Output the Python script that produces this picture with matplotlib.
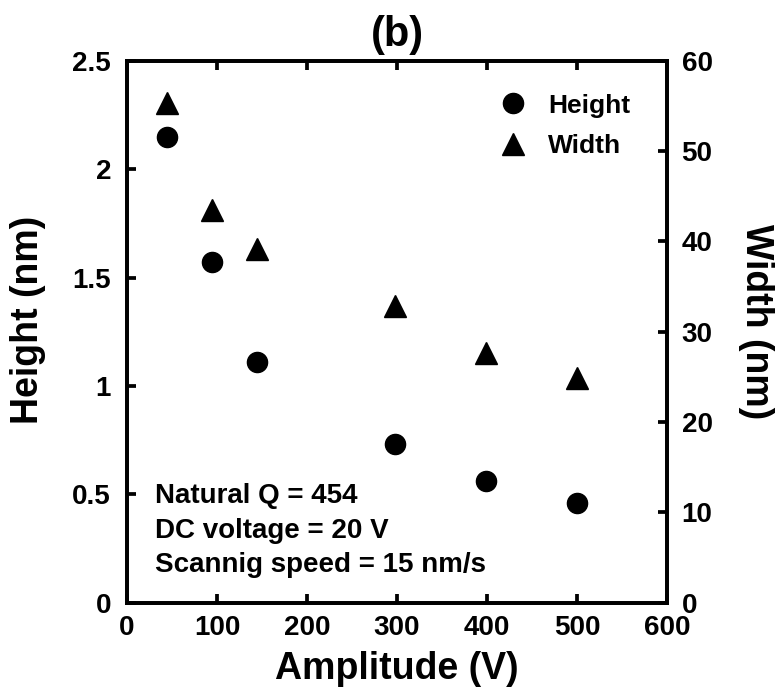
import numpy as np
import matplotlib
matplotlib.use('Agg')
import matplotlib.pyplot as plt

# data
amplitude = [45, 95, 145, 298, 399, 500]
height_nm = [2.15, 1.57, 1.11, 0.73, 0.56, 0.46]
width_nm = [55.3, 43.5, 39.2, 32.9, 27.6, 24.9]

x_ticks = [0, 100, 200, 300, 400, 500, 600]
h_ticks = [0, 0.5, 1, 1.5, 2, 2.5]
h_ticklabels = ['0', '0.5', '1', '1.5', '2', '2.5']
w_ticks = [0, 10, 20, 30, 40, 50, 60]

info_lines = ['Natural Q = 454', 'DC voltage = 20 V', 'Scannig speed = 15 nm/s']

plt.rcParams['font.family'] = ['Liberation Sans', 'DejaVu Sans']
plt.rcParams['font.weight'] = 'bold'

fig = plt.figure(figsize=(7.82, 6.92), dpi=100)
ax = fig.add_axes([0.1624, 0.129, 0.6905, 0.7832])
ax2 = ax.twinx()

h1, = ax.plot(amplitude, height_nm, 'o', color='black', markersize=14.5, label='Height')
h2, = ax2.plot(amplitude, width_nm, '^', color='black', markersize=15.5, label='Width')

ax.set_xlim(0, 600)
ax.set_ylim(0, 2.5)
ax2.set_ylim(0, 60)
ax.set_xticks(x_ticks)
ax.set_yticks(h_ticks)
ax.set_yticklabels(h_ticklabels)
ax2.set_yticks(w_ticks)

for a in (ax, ax2):
    for s in a.spines.values():
        s.set_linewidth(2.7)
    a.tick_params(direction='in', length=6.5, width=2.7, labelsize=20)
ax.tick_params(axis='x', top=True, pad=8.5)
ax.tick_params(axis='y', right=False, pad=11.5)
ax2.tick_params(axis='y', left=False, right=True, pad=10.5)
for lab in ax.get_xticklabels() + ax.get_yticklabels() + ax2.get_yticklabels():
    lab.set_fontweight('bold')

ax.set_xlabel('Amplitude (V)', fontsize=27, fontweight='bold', va='baseline')
ax.xaxis.set_label_coords(0.5, -0.1408)
ax.set_ylabel('Height (nm)', fontsize=27, fontweight='bold', va='center')
ax.yaxis.set_label_coords(-0.1833, 0.5216)
ax2.set_ylabel('Width (nm)', fontsize=27, fontweight='bold', rotation=270, va='center')
ax2.yaxis.set_label_coords(1.1648, 0.519)
ax.set_title('(b)', fontsize=30, fontweight='bold', y=1.027, pad=0)

# run conditions, one line each
for i, yb in enumerate([0.1843, 0.1196, 0.0558]):
    ax.text(0.052, yb, info_lines[i], transform=ax.transAxes, fontsize=20,
            fontweight='bold', va='baseline', ha='left')

leg = ax.legend(handles=[h1, h2], loc='center left', bbox_to_anchor=(0.691, 0.880),
                frameon=False, borderpad=0, borderaxespad=0, handlelength=1.0,
                handletextpad=0.83, labelspacing=0.62,
                prop={'weight': 'bold', 'size': 19})

plt.savefig('out.png', dpi=100)
